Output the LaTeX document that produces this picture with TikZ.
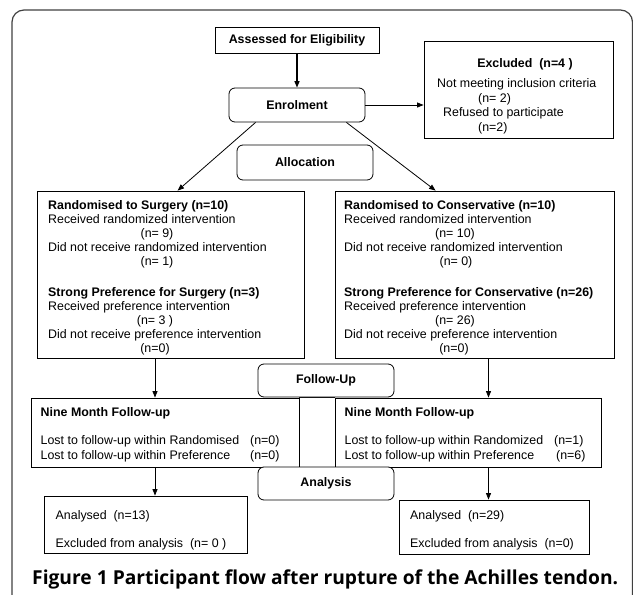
\documentclass[tikz,border=0pt]{standalone}
\usepackage{fontspec}
\usepackage{graphicx}
\setmainfont{Liberation Sans}
\newfontfamily\capfont{Open Sans}
\usetikzlibrary{arrows.meta,calc}
\newcommand\bodyfont{\fontsize{12.4}{14}\selectfont}
\tikzset{
  frame/.style={draw=black!75, line width=1.2pt, rounded corners=12pt},
  box/.style={draw, line width=0.8pt, inner sep=0pt, rectangle, font=\bodyfont\bfseries},
  rbox/.style={box, rounded corners=6pt},
  txt/.style={inner sep=0pt, anchor=base west, font=\bodyfont},
  btxt/.style={txt, font=\bodyfont\bfseries},
  ctxt/.style={inner sep=0pt, anchor=base, font=\bodyfont},
  bctxt/.style={ctxt, font=\bodyfont\bfseries},
  arr/.style={-{Triangle[length=6.5pt,width=5pt]}, line width=0.8pt},
}
\begin{document}
\begin{tikzpicture}[x=1pt,y=-1pt]
\useasboundingbox (0,0) rectangle (633,595);
\begin{scope}
\clip (0,0) rectangle (633,595);
\draw[frame] (12,10) rectangle (632.5,660);
\end{scope}

% boxes
\node[box, minimum width=164pt, minimum height=26pt] (Assessed) at (297,40) {Assessed for Eligibility};
\node[rbox, minimum width=136pt, minimum height=34pt] (Enrolment) at (297,105) {Enrolment};
\node[box, minimum width=189pt, minimum height=97pt] (Excluded) at (518.5,89.5) {};
\node[rbox, minimum width=136pt, minimum height=35pt] (Allocation) at (305,162.5) {Allocation};
\node[box, minimum width=267pt, minimum height=167pt] (LeftBox) at (170.5,274.5) {};
\node[box, minimum width=279pt, minimum height=167pt] (RightBox) at (474.5,274.5) {};
\node[box, minimum width=267.5pt, minimum height=69pt] (NineL) at (165.25,432.5) {};
\node[box, minimum width=266.5pt, minimum height=69pt] (NineR) at (468.25,432.5) {};
\draw[line width=0.8pt] (NineL.north east) -- (NineR.north west);
\draw[line width=0.8pt] (NineL.south east) -- (NineR.south west);
\node[rbox, fill=white, minimum width=136pt, minimum height=33pt] (FollowUp) at (326,380.5) {Follow-Up};
\node[rbox, fill=white, minimum width=136pt, minimum height=33pt] (Analysis) at (326,483.5) {Analysis};
\node[box, minimum width=203pt, minimum height=57pt] (AnaL) at (146,524.5) {};
\node[box, minimum width=190.5pt, minimum height=54pt] (AnaR) at (494.25,527) {};

% Excluded text
\node[bctxt] (ex1) at (525,67) {Excluded~ (n=4 )};
\node[txt] (ex2) at (437,87) {Not meeting inclusion criteria};
\node[txt] (ex3) at (478,102) {(n= 2)};
\node[txt] (ex4) at (443,116) {Refused to participate};
\node[txt] (ex5) at (478,131) {(n=2)};

% Left box text
\node[btxt] (l1) at (48,209) {Randomised to Surgery (n=10)};
\node[txt] (l2) at (48,223) {Received randomized intervention};
\node[ctxt] (l3) at (157,237) {(n= 9)};
\node[txt] (l4) at (48,251) {Did not receive randomized intervention};
\node[ctxt] (l5) at (157,265) {(n= 1)};
\node[btxt] (l6) at (48,296) {Strong Preference for Surgery (n=3)};
\node[txt] (l7) at (48,310) {Received preference intervention};
\node[ctxt] (l8) at (155,324) {(n= 3 )};
\node[txt] (l9) at (48,338) {Did not receive preference intervention};
\node[ctxt] (l10) at (155,352) {(n=0)};

% Right box text
\node[btxt] (r1) at (344,209) {Randomised to Conservative (n=10)};
\node[txt] (r2) at (344,223) {Received randomized intervention};
\node[ctxt] (r3) at (455,237) {(n= 10)};
\node[txt] (r4) at (344,251) {Did not receive randomized intervention};
\node[ctxt] (r5) at (456,265) {(n= 0)};
\node[btxt] (r6) at (344,296) {Strong Preference for Conservative (n=26)};
\node[txt] (r7) at (344,310) {Received preference intervention};
\node[ctxt] (r8) at (455,324) {(n= 26)};
\node[txt] (r9) at (344,338) {Did not receive preference intervention};
\node[ctxt] (r10) at (454,352) {(n=0)};

% Nine month text
\node[btxt] (nl1) at (40.5,416) {Nine Month Follow-up};
\node[txt] (nl2) at (40.5,444.5) {Lost to follow-up within Randomised};
\node[txt] (nl3) at (250,444.5) {(n=0)};
\node[txt] (nl4) at (40.5,459.5) {Lost to follow-up within Preference};
\node[txt] (nl5) at (250,459.5) {(n=0)};
\node[btxt] (nr1) at (344.5,416) {Nine Month Follow-up};
\node[txt] (nr2) at (344.5,444.5) {Lost to follow-up within Randomized};
\node[txt] (nr3) at (554,444.5) {(n=1)};
\node[txt] (nr4) at (344.5,459.5) {Lost to follow-up within Preference};
\node[txt] (nr5) at (556,459.5) {(n=6)};

% Analysed text
\node[txt] (al1) at (55.5,519.5) {Analysed~ (n=13)};
\node[txt] (al2) at (55.5,547) {Excluded from analysis~ (n= 0 )};
\node[txt] (ar1) at (410,519.5) {Analysed~ (n=29)};
\node[txt] (ar2) at (410,547) {Excluded from analysis~ (n=0)};

% caption
\node[anchor=base west, inner sep=0pt] (cap) at (32,584) {\resizebox{586pt}{!}{\capfont\bfseries Figure 1 Participant flow after rupture of the Achilles tendon.}};

% connectors
\coordinate (lx) at (155,0);
\coordinate (rx) at (488.5,0);
\draw[arr, line width=1.3pt] (Assessed.south) -- (Enrolment.north);
\draw[arr] (Enrolment.east) -- (Enrolment.east -| Excluded.west);
\draw[arr] ($(Enrolment.south west)+(27,0)$) -- ($(LeftBox.north west)+(141,0)$);
\draw[arr] ($(Enrolment.south east)+(-19,0)$) -- ($(RightBox.north west)+(101,0)$);
\draw[arr] (LeftBox.south -| lx) -- (NineL.north -| lx);
\draw[arr] (RightBox.south -| rx) -- (NineR.north -| rx);
\draw[arr] (NineL.south -| lx) -- (AnaL.north -| lx);
\draw[arr] (NineR.south -| rx) -- (AnaR.north -| rx);
\end{tikzpicture}
\end{document}
